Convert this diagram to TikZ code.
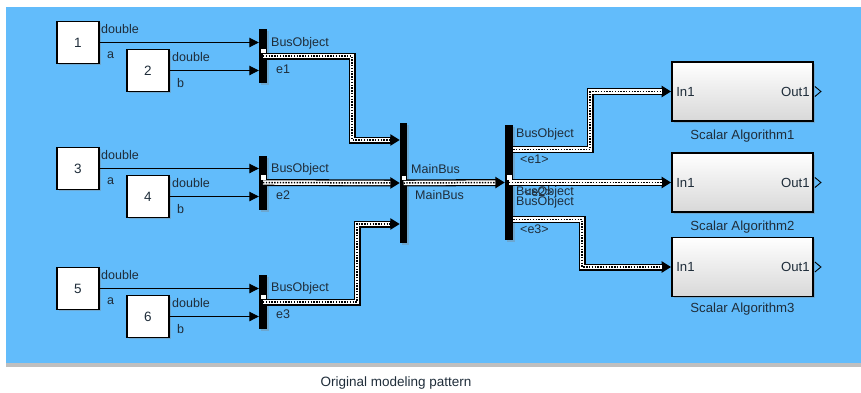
\documentclass[tikz,border=0pt]{standalone}
\usepackage{fontspec}
\setmainfont{Liberation Sans}
\usetikzlibrary{arrows.meta,calc,shadows}
\definecolor{canvas}{HTML}{62BCFB}
\definecolor{ink}{HTML}{1F2D3A}
\definecolor{blockgray}{HTML}{D8D8D8}

\begin{document}
\begin{tikzpicture}[x=1pt,y=-1pt,
  srcblock/.style={draw=black,line width=1.3pt,fill=white,minimum width=42pt,minimum height=42pt,inner sep=0pt,font=\fontsize{13.5}{13.5}\selectfont,text=ink,drop shadow={shadow xshift=1.5pt,shadow yshift=-1.5pt,opacity=.35}},
  bar/.style={fill=black,inner sep=0pt,minimum width=8pt,drop shadow={shadow xshift=2pt,shadow yshift=-2pt,opacity=.35}},
  algo/.style={draw=black,line width=1.8pt,top color=white,bottom color=blockgray,minimum width=141pt,minimum height=59pt,inner sep=0pt,drop shadow={shadow xshift=1.5pt,shadow yshift=-1.5pt,opacity=.35}},
  lbl/.style={font=\fontsize{12.5}{12.5}\selectfont,text=ink,inner sep=0pt,anchor=west},
  algolbl/.style={lbl,font=\fontsize{13.2}{13.2}\selectfont},
  caption/.style={font=\fontsize{13.5}{14}\selectfont,text=ink,inner sep=0pt},
  sig/.style={draw=black,line width=0.9pt,-{Triangle[length=9.5pt,width=9.5pt]}},
  bus/.style={draw=white,line width=4.4pt,shorten >=9.5pt,
    preaction={draw=black,line width=7pt,shorten >=0pt,-{Triangle[length=9.5pt,width=11pt]}},
    postaction={draw=black,line width=1.5pt,dash pattern=on 1.4pt off 1.4pt}},
  outport/.style={draw=black,line width=0.9pt}
]
  \useasboundingbox (0,0) rectangle (861,392);
  \fill[canvas,drop shadow={shadow xshift=0pt,shadow yshift=-4pt,opacity=.5}] (6,7) rectangle (861,363);

  \node[srcblock] (n1) at (78,42.5) {1};
  \node[srcblock] (n2) at (148,70.5) {2};
  \node[srcblock] (n3) at (78,168.5) {3};
  \node[srcblock] (n4) at (148,196.5) {4};
  \node[srcblock] (n5) at (78,288.5) {5};
  \node[srcblock] (n6) at (148,316.5) {6};

  \node[bar,minimum height=54pt] (bc1) at (263,56) {};
  \node[bar,minimum height=54pt] (bc2) at (263,182.5) {};
  \node[bar,minimum height=54pt] (bc3) at (263,302) {};
  \node[bar,minimum width=7pt,minimum height=120pt] (mainbus) at (403.5,183) {};
  \node[bar,minimum height=115pt] (sel) at (509,182.5) {};

  \node[algo] (sa1) at (742.5,91.5) {};
  \node[algo] (sa2) at (742.5,182.5) {};
  \node[algo] (sa3) at (742.5,267) {};

  \draw[sig] (n1.east) -- (n1.east -| bc1.west);
  \draw[sig] (n2.east) -- (n2.east -| bc1.west);
  \draw[sig] (n3.east) -- (n3.east -| bc2.west);
  \draw[sig] (n4.east) -- (n4.east -| bc2.west);
  \draw[sig] (n5.east) -- (n5.east -| bc3.west);
  \draw[sig] (n6.east) -- (n6.east -| bc3.west);

  \draw[bus] (bc1.center) -- ++(89,0) |- ($(mainbus.west)+(0,-43)$);
  \draw[bus] (bc2.center) -- (mainbus.west);
  \draw[bus] (bc3.center) -- ++(94,0) |- ($(mainbus.west)+(0,41)$);
  \draw[bus] (mainbus.center) -- (sel.west);
  \draw[bus] ($(sel.east)+(0,-33)$) -- ++(77,0) |- (sa1.west);
  \draw[bus] (sel.center) -- (sa2.west);
  \draw[bus] ($(sel.east)+(0,37)$) -- ++(69,0) |- (sa3.west);

  \fill[white] ($(bc1.center)+(-2.5,-7.5)$) rectangle ++(5,4.5);
  \fill[white] ($(bc2.center)+(-2.5,-7.5)$) rectangle ++(5,4.5);
  \fill[white] ($(bc3.center)+(-2.5,-7.5)$) rectangle ++(5,4.5);
  \fill[white] ($(mainbus.center)+(-2,-7.5)$) rectangle ++(4.5,4.5);
  \fill[white] ($(sel.center)+(-2.5,-7.5)$) rectangle ++(5,4.5);

  \draw[outport] ($(sa1.east)+(1,-5)$) -- ++(6,5) -- ++(-6,5);
  \draw[outport] ($(sa2.east)+(1,-5)$) -- ++(6,5) -- ++(-6,5);
  \draw[outport] ($(sa3.east)+(1,-5)$) -- ++(6,5) -- ++(-6,5);

  \node[lbl] (t1) at (101,29) {double};
  \node[lbl] (a1) at (107,55) {a};
  \node[lbl] (t2) at (172,57) {double};
  \node[lbl] (b1) at (177,83) {b};
  \node[lbl] (t3) at (101,155) {double};
  \node[lbl] (a2) at (107,181) {a};
  \node[lbl] (t4) at (172,183) {double};
  \node[lbl] (b2) at (177,209) {b};
  \node[lbl] (t5) at (101,275) {double};
  \node[lbl] (a3) at (107,301) {a};
  \node[lbl] (t6) at (172,303) {double};
  \node[lbl] (b3) at (177,329) {b};

  \node[lbl] (o1) at (271,43) {BusObject};
  \node[lbl] (e1) at (276,69) {e1};
  \node[lbl] (o2) at (271,169) {BusObject};
  \node[lbl] (e2) at (276,195) {e2};
  \node[lbl] (o3) at (271,288) {BusObject};
  \node[lbl] (e3) at (276,314) {e3};

  \node[lbl] (m1) at (411,169) {MainBus};
  \node[lbl] (m2) at (415,195) {MainBus};

  \node[lbl] (s1) at (516,134) {BusObject};
  \node[lbl] (s2) at (520,159) {<e1>};
  \node[lbl] (s3) at (516,192) {BusObject};
  \node[lbl] (s4) at (524,192) {<e2>};
  \node[lbl] (s5) at (516,202) {BusObject};
  \node[lbl] (s6) at (520,229) {<e3>};

  \node[algolbl] (i1) at ($(sa1.west)+(5,0)$) {In1};
  \node[algolbl,anchor=east] (u1) at ($(sa1.east)+(-4,0)$) {Out1};
  \node[algolbl] (i2) at ($(sa2.west)+(5,0)$) {In1};
  \node[algolbl,anchor=east] (u2) at ($(sa2.east)+(-4,0)$) {Out1};
  \node[algolbl] (i3) at ($(sa3.west)+(5,0)$) {In1};
  \node[algolbl,anchor=east] (u3) at ($(sa3.east)+(-4,0)$) {Out1};

  \node[algolbl,anchor=north] (c1) at ($(sa1.south)+(0,8)$) {Scalar Algorithm1};
  \node[algolbl,anchor=north] (c2) at ($(sa2.south)+(0,8)$) {Scalar Algorithm2};
  \node[algolbl,anchor=north] (c3) at ($(sa3.south)+(0,5)$) {Scalar Algorithm3};

  \node[caption] (cap) at (396,383) {Original modeling pattern};
\end{tikzpicture}
\end{document}
